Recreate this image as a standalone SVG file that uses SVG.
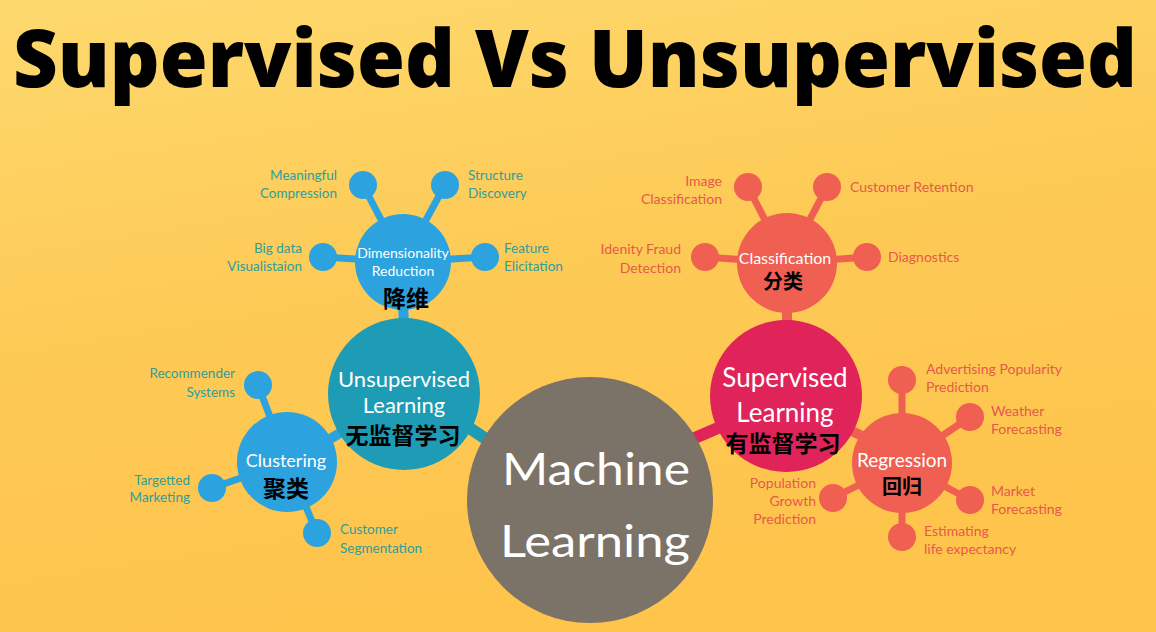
<svg xmlns="http://www.w3.org/2000/svg" width="1156" height="632" viewBox="0 0 1156 632">
<defs>
<linearGradient id="bg" x1="0" y1="0" x2="0.3" y2="1">
<stop offset="0" stop-color="#fdd96e"/>
<stop offset="0.5" stop-color="#fdca56"/>
<stop offset="1" stop-color="#fec44c"/>
</linearGradient>
<style>
.t{font-family:"Lato","Open Sans",sans-serif}
.tl{font-family:"Lato","Open Sans",sans-serif;font-size:13.5px;fill:#2f9e9c}
.tr{font-family:"Lato","Open Sans",sans-serif;font-size:14px;fill:#e55a4a}
.w{fill:#ffffff;text-anchor:middle}
.cn{font-family:"Noto Sans CJK SC",sans-serif;font-weight:700;fill:#000;text-anchor:middle}
.e{text-anchor:end}
.blue{fill:#2ca3de}
.coral{fill:#ef5f52}
.sb{stroke:#2ca3de;stroke-width:7}
.sc{stroke:#ef5f52;stroke-width:7}
</style>
</defs>
<rect width="1156" height="632" fill="url(#bg)"/>
<text x="575" y="87" text-anchor="middle" font-family="Open Sans, sans-serif" font-weight="800" font-size="79" fill="#000" textLength="1124" lengthAdjust="spacingAndGlyphs">Supervised Vs Unsupervised</text>

<g id="connectors">
<line x1="403" y1="300" x2="404" y2="330" stroke="#2ca3de" stroke-width="10"/>
<line x1="320" y1="445" x2="345" y2="430" stroke="#2ca3de" stroke-width="10"/>
<line x1="465" y1="425" x2="495" y2="445" stroke="#1e9cb5" stroke-width="12"/>
<line x1="787" y1="300" x2="787" y2="330" stroke="#ef5f52" stroke-width="10"/>
<line x1="690" y1="440" x2="725" y2="425" stroke="#e0245a" stroke-width="12"/>
<line x1="840" y1="425" x2="870" y2="440" stroke="#ef5f52" stroke-width="10"/>
<line class="sb" x1="363" y1="185" x2="403" y2="262"/>
<line class="sb" x1="445" y1="185" x2="403" y2="262"/>
<line class="sb" x1="323" y1="257" x2="403" y2="262"/>
<line class="sb" x1="485" y1="257" x2="403" y2="262"/>
<line class="sb" x1="258" y1="385" x2="287" y2="462"/>
<line class="sb" x1="212" y1="488" x2="287" y2="462"/>
<line class="sb" x1="317" y1="533" x2="287" y2="462"/>
<line class="sc" x1="748" y1="187" x2="787" y2="263"/>
<line class="sc" x1="827" y1="187" x2="787" y2="263"/>
<line class="sc" x1="705" y1="257" x2="787" y2="263"/>
<line class="sc" x1="867" y1="257" x2="787" y2="263"/>
<line class="sc" x1="902" y1="380" x2="902" y2="463"/>
<line class="sc" x1="970" y1="417" x2="902" y2="463"/>
<line class="sc" x1="970" y1="500" x2="902" y2="463"/>
<line class="sc" x1="902" y1="537" x2="902" y2="463"/>
<line class="sc" x1="833" y1="498" x2="902" y2="463"/>
</g>

<g id="machine-learning">
<circle cx="590" cy="500" r="123" fill="#7b7367"/>
<text class="t w" x="596" y="485" font-size="45" textLength="188" lengthAdjust="spacingAndGlyphs">Machine</text>
<text class="t w" x="595" y="557" font-size="45" textLength="190" lengthAdjust="spacingAndGlyphs">Learning</text>
</g>

<g id="unsupervised-learning">
<circle cx="404" cy="394" r="76" fill="#1e9cb5"/>
<text class="t w" x="404" y="387" font-size="22">Unsupervised</text>
<text class="t w" x="404" y="413" font-size="22">Learning</text>
<text class="cn" x="403" y="444" font-size="23">无监督学习</text>
</g>

<g id="dimensionality-reduction">
<circle class="blue" cx="403" cy="262" r="48"/>
<text class="t w" x="403" y="258" font-size="14">Dimensionality</text>
<text class="t w" x="403" y="276" font-size="14">Reduction</text>
<text class="cn" x="406" y="307" font-size="23">降维</text>
</g>
<g id="meaningful-compression">
<circle class="blue" cx="363" cy="185" r="14"/>
<text class="tl e" x="337" y="180">Meaningful</text>
<text class="tl e" x="337" y="198">Compression</text>
</g>
<g id="structure-discovery">
<circle class="blue" cx="445" cy="185" r="14"/>
<text class="tl" x="468" y="180">Structure</text>
<text class="tl" x="468" y="198">Discovery</text>
</g>
<g id="big-data">
<circle class="blue" cx="323" cy="257" r="14"/>
<text class="tl e" x="302" y="253">Big data</text>
<text class="tl e" x="302" y="271">Visualistaion</text>
</g>
<g id="feature-elicitation">
<circle class="blue" cx="485" cy="257" r="14"/>
<text class="tl" x="504" y="253">Feature</text>
<text class="tl" x="504" y="271">Elicitation</text>
</g>

<g id="clustering">
<circle class="blue" cx="287" cy="462" r="50"/>
<text class="t w" x="286" y="467" font-size="18">Clustering</text>
<text class="cn" x="286" y="497" font-size="23">聚类</text>
</g>
<g id="recommender-systems">
<circle class="blue" cx="258" cy="385" r="14"/>
<text class="tl e" x="235" y="378">Recommender</text>
<text class="tl e" x="235" y="397">Systems</text>
</g>
<g id="targetted-marketing">
<circle class="blue" cx="212" cy="488" r="14"/>
<text class="tl e" x="190" y="485">Targetted</text>
<text class="tl e" x="190" y="502">Marketing</text>
</g>
<g id="customer-segmentation">
<circle class="blue" cx="317" cy="533" r="14"/>
<text class="tl" x="340" y="534">Customer</text>
<text class="tl" x="340" y="553">Segmentation</text>
</g>

<g id="supervised-learning">
<circle cx="786" cy="396" r="76" fill="#e0245a"/>
<text class="t w" x="785" y="387" font-size="26">Supervised</text>
<text class="t w" x="785" y="422" font-size="26">Learning</text>
<text class="cn" x="783" y="452" font-size="23">有监督学习</text>
</g>

<g id="classification">
<circle class="coral" cx="787" cy="263" r="50"/>
<text class="t w" x="785" y="264" font-size="16">Classification</text>
<text class="cn" x="783" y="289" font-size="20">分类</text>
</g>
<g id="image-classification">
<circle class="coral" cx="748" cy="187" r="14"/>
<text class="tr e" x="722" y="186">Image</text>
<text class="tr e" x="722" y="204">Classification</text>
</g>
<g id="customer-retention">
<circle class="coral" cx="827" cy="187" r="14"/>
<text class="tr" x="850" y="192">Customer Retention</text>
</g>
<g id="identity-fraud">
<circle class="coral" cx="705" cy="257" r="14"/>
<text class="tr e" x="681" y="254">Idenity Fraud</text>
<text class="tr e" x="681" y="273">Detection</text>
</g>
<g id="diagnostics">
<circle class="coral" cx="867" cy="257" r="14"/>
<text class="tr" x="888" y="262">Diagnostics</text>
</g>

<g id="regression">
<circle class="coral" cx="902" cy="463" r="50"/>
<text class="t w" x="902" y="467" font-size="19">Regression</text>
<text class="cn" x="902" y="494" font-size="20">回归</text>
</g>
<g id="advertising">
<circle class="coral" cx="902" cy="380" r="14"/>
<text class="tr" x="926" y="374">Advertising Popularity</text>
<text class="tr" x="926" y="392">Prediction</text>
</g>
<g id="weather">
<circle class="coral" cx="970" cy="417" r="14"/>
<text class="tr" x="991" y="416">Weather</text>
<text class="tr" x="991" y="434">Forecasting</text>
</g>
<g id="market">
<circle class="coral" cx="970" cy="500" r="14"/>
<text class="tr" x="991" y="496">Market</text>
<text class="tr" x="991" y="514">Forecasting</text>
</g>
<g id="life-expectancy">
<circle class="coral" cx="902" cy="537" r="14"/>
<text class="tr" x="924" y="536">Estimating</text>
<text class="tr" x="924" y="554">life expectancy</text>
</g>
<g id="population-growth">
<circle class="coral" cx="833" cy="498" r="14"/>
<text class="tr e" x="816" y="488">Population</text>
<text class="tr e" x="816" y="506">Growth</text>
<text class="tr e" x="816" y="524">Prediction</text>
</g>
</svg>
